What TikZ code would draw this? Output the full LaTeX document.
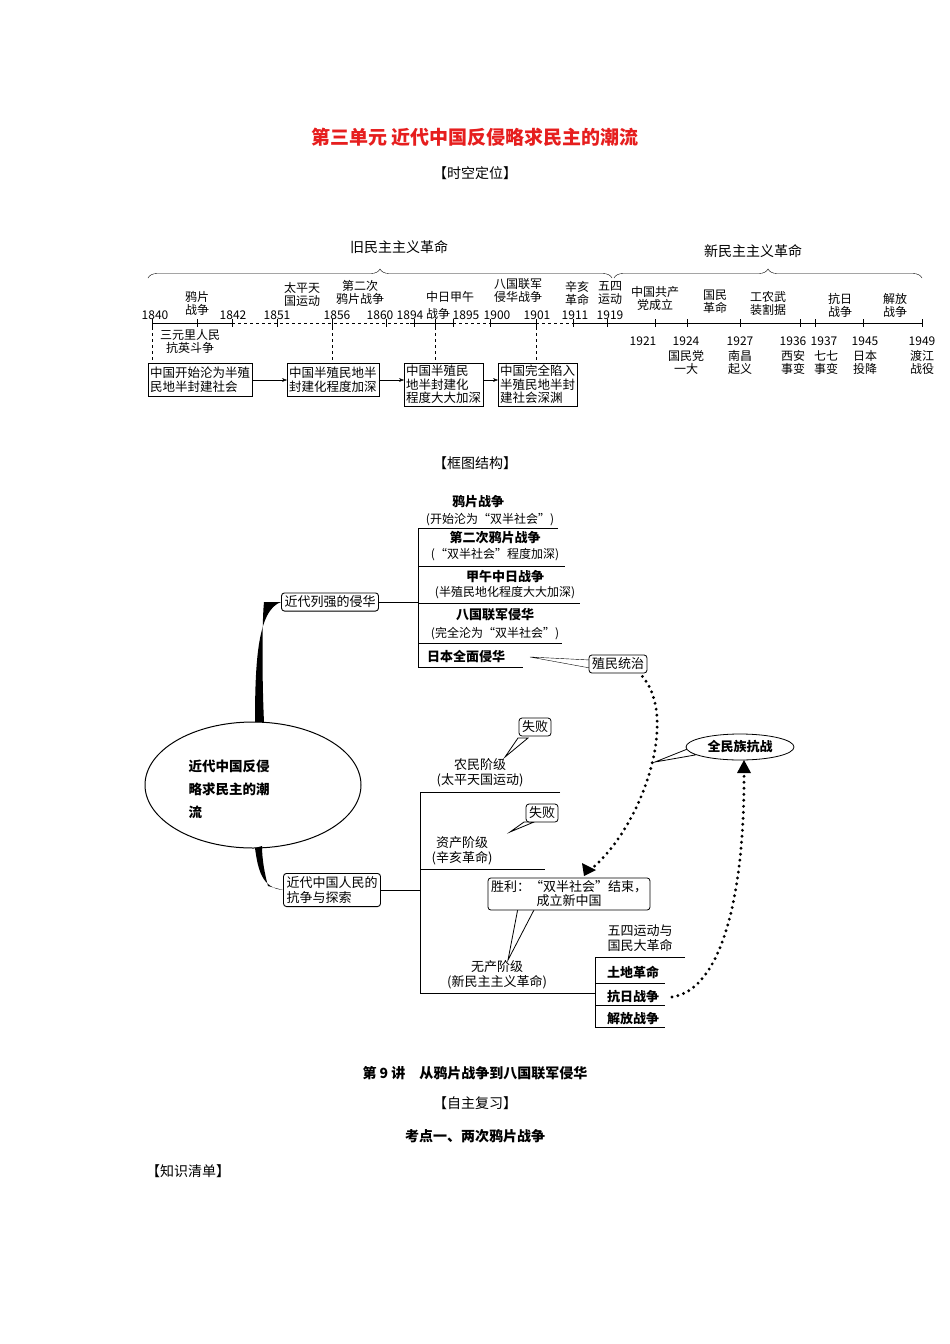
\documentclass[tikz,border=0pt]{standalone}
\usepackage{fontspec}
\setmainfont{Noto Sans CJK SC}
\usetikzlibrary{decorations.pathreplacing,arrows.meta,calc,shapes.geometric}
\definecolor{titlered}{RGB}{230,30,30}
\begin{document}
\begin{tikzpicture}[x=1pt,y=-1pt,
  t/.style={font=\fontsize{12}{13}\selectfont,align=center,inner sep=0pt},
  tb/.style={font=\fontsize{13}{14}\selectfont\bfseries,align=center,inner sep=0pt},
  ybox/.style={draw,font=\fontsize{12.5}{13.5}\selectfont,align=left,inner sep=2pt,anchor=north west},
  rbox/.style={draw,rounded corners=3pt,line width=0.9pt,font=\fontsize{13}{15}\selectfont,align=left,fill=white,inner sep=3pt},
  call/.style={draw,rounded corners=3pt,fill=white,line width=0.8pt,font=\fontsize{13}{14}\selectfont,align=center,inner sep=3pt},
  dots/.style={line width=3.2pt,dash pattern=on 0pt off 6pt,line cap=round},
  brc/.style={decorate,decoration={brace,amplitude=9pt}},
  arr/.style={-{Stealth[length=5pt]}}]
\useasboundingbox (0,0) rectangle (950,1344);
% titles
\node[font=\fontsize{19}{20}\selectfont\bfseries,text=titlered] (title) at (475,137) {第三单元\ 近代中国反侵略求民主的潮流};
\node[font=\fontsize{14}{15}\selectfont] (h1) at (475,173) {【时空定位】};
% braces
\draw[brc] (148,278) -- (612,278);
\node[font=\fontsize{14}{15}\selectfont] (old) at (399,247) {旧民主主义革命};
\draw[brc] (614,278) -- (922,278);
\node[font=\fontsize{14}{15}\selectfont] (new) at (753,251) {新民主主义革命};
% timeline
\draw (152,323) -- (232,323);
\draw[dashed] (232,323) -- (410,323);
\draw (410,323) -- (453,323);
\draw[dashed] (453,323) -- (490,323);
\draw (490,323) -- (536,323);
\draw[dashed] (536,323) -- (573,323);
\draw (573,323) -- (922,323);
\foreach \x in {152,197,232,277,332,386,414,435,453,490,536,573,607,655,687,740,800,815,863,922}
  \draw (\x,319) -- (\x,327);
% years above old line
\foreach \x/\y in {155/1840,233/1842,277/1851,337/1856,380/1860,410/1894,466/1895,497/1900,537/1901,575/1911,610/1919}
  \node[t] at (\x,315) {\y};
\node[t] (zr) at (438,314) {战争};
\node[t] at (197,303) {鸦片\\战争};
\node[t] at (302,294) {太平天\\国运动};
\node[t] at (360,292) {第二次\\鸦片战争};
\node[t] at (450,297) {中日甲午};
\node[t] at (518,291) {八国联军\\侵华战争};
\node[t] at (577,293) {辛亥\\革命};
\node[t] at (610,293) {五四\\运动};
\node[t] at (190,341) {三元里人民\\抗英斗争};
% new labels
\node[t] at (655,298) {中国共产\\党成立};
\node[t] at (715,302) {国民\\革命};
\node[t] at (768,303) {工农武\\装割据};
\node[t] at (840,305) {抗日\\战争};
\node[t] at (895,305) {解放\\战争};
\foreach \x/\y in {643/1921,686/1924,740/1927,793/1936,824/1937,865/1945,922/1949}
  \node[t] at (\x,341) {\y};
\node[t,anchor=north] at (686,350) {国民党\\一大};
\node[t,anchor=north] at (740,350) {南昌\\起义};
\node[t,anchor=north] at (793,350) {西安\\事变};
\node[t,anchor=north] at (826,350) {七七\\事变};
\node[t,anchor=north] at (865,350) {日本\\投降};
\node[t,anchor=north] at (922,350) {渡江\\战役};
% boxes
\node[ybox,minimum height=33pt] (b1) at (148,363) {中国开始沦为半殖\\民地半封建社会};
\node[ybox,minimum height=33pt] (b2) at (287,363) {中国半殖民地半\\封建化程度加深};
\node[ybox] (b3) at (404,363) {中国半殖民\\地半封建化\\程度大大加深};
\node[ybox] (b4) at (498,363) {中国完全陷入\\半殖民地半封\\建社会深渊};
\draw[dashed] (152,327) -- (152,363);
\draw[dashed] (332,327) -- (332,363);
\draw[dashed] (435,327) -- (435,363);
\draw[dashed] (536,327) -- (536,363);
\draw[arr] (b1.east |- 0,380) -- (b2.west |- 0,380);
\draw[arr] (b2.east |- 0,380) -- (b3.west |- 0,380);
\draw[arr] (b3.east |- 0,380) -- (b4.west |- 0,380);
% mind map
\node[font=\fontsize{14}{15}\selectfont] (h2) at (475,463) {【框图结构】};
\node[draw,ellipse,line width=1pt,minimum width=216pt,minimum height=126pt] (root) at (253,785) {};
\node[font=\fontsize{13.5}{23}\selectfont\bfseries,align=left,anchor=north west] (rt) at (185,756) {近代中国反侵\\略求民主的潮\\流};
\node[rbox] (m1) at (330,602) {近代列强的侵华};
\node[rbox] (m2) at (332,890) {近代中国人民的\\抗争与探索};
\fill (255,722) .. controls (255,660) and (258,610) .. (m1.west) -- (264,602) .. controls (262,620) and (262,680) .. (264,722) -- cycle;
\fill (255,848) .. controls (258,870) and (262,888) .. (m2.west) -- (268,886) .. controls (265,875) and (262,860) .. (262,846) -- cycle;
% upper branch
\draw[line width=0.8pt] (m1.east) -- (418,602);
\draw[line width=0.8pt] (558,528) -- (418,528) -- (418,667) -- (523,667);
\foreach \y/\r in {566/565,603/580,643/562} \draw[line width=0.8pt] (418,\y) -- (\r,\y);
\node[tb] at (478,502) {鸦片战争};
\node[t] at (490,520) {(开始沦为“双半社会”)};
\node[tb] at (495,538) {第二次鸦片战争};
\node[t] at (495,555) {(“双半社会”程度加深)};
\node[tb] at (505,577) {甲午中日战争};
\node[t] at (505,593) {(半殖民地化程度大大加深)};
\node[tb] at (495,615) {八国联军侵华};
\node[t] at (495,634) {(完全沦为“双半社会”)};
\node[tb] at (466,657) {日本全面侵华};
\draw[fill=white] (530,657) -- (590,660) -- (590,668) -- cycle;
\node[call] (zm) at (618,664) {殖民统治};
% lower branch
\draw[line width=0.8pt] (m2.east) -- (420,890);
\draw[line width=0.8pt] (560,792) -- (420,792) -- (420,993) -- (595,993);
\draw[line width=0.8pt] (420,869) -- (545,869);
\draw[line width=0.8pt] (685,957) -- (595,957) -- (595,1027) -- (665,1027);
\foreach \y in {983,1005} \draw[line width=0.8pt] (595,\y) -- (665,\y);
\node[t,font=\fontsize{13}{15}\selectfont] at (480,773) {农民阶级\\(太平天国运动)};
\node[t,font=\fontsize{13}{15}\selectfont] at (462,851) {资产阶级\\(辛亥革命)};
\node[t,font=\fontsize{13}{15}\selectfont] at (497,975) {无产阶级\\(新民主主义革命)};
\node[t,font=\fontsize{13}{15}\selectfont] at (640,938) {五四运动与\\国民大革命};
\node[tb] at (633,972) {土地革命};
\node[tb] (kr) at (633,997) {抗日战争};
\node[tb] at (633,1019) {解放战争};
% callouts
\draw[fill=white,line width=0.8pt] (505,757) -- (518,738) -- (528,738) -- cycle;
\node[call] (sb1) at (535,727) {失败};
\draw[fill=white,line width=0.8pt] (510,832) -- (524,822) -- (534,822) -- cycle;
\node[call] (sb2) at (542,813) {失败};
\draw[fill=white,line width=0.8pt] (508,960) -- (518,908) -- (535,908) -- cycle;
\node[call] (sl) at (569,894) {胜利：“双半社会”结束，\\成立新中国};
\draw[fill=white,line width=0.8pt] (655,762) -- (690,748) -- (695,755) -- cycle;
\node[draw,ellipse,fill=white,line width=0.8pt,font=\fontsize{13}{14}\selectfont\bfseries,inner sep=1pt,minimum width=108pt,minimum height=26pt] (qm) at (740,747) {全民族抗战};
% dotted arrows
\draw[dots] (zm.south east) ++(-5,3) .. controls (680,720) and (640,830) .. (590,870);
\fill (584,876) -- (582,863) -- (596,870) -- cycle;
\draw[dots] (672,997) .. controls (720,990) and (745,900) .. (744,770);
\fill (744,760) -- (737,773) -- (751,773) -- cycle;
% bottom text
\node[font=\fontsize{14}{15}\selectfont\bfseries] (l9) at (475,1073) {第 9 讲\quad 从鸦片战争到八国联军侵华};
\node[font=\fontsize{14}{15}\selectfont] (h3) at (475,1103) {【自主复习】};
\node[font=\fontsize{14}{15}\selectfont\bfseries] (kd) at (475,1136) {考点一、两次鸦片战争};
\node[font=\fontsize{14}{15}\selectfont] (h4) at (188,1171) {【知识清单】};
\end{tikzpicture}
\end{document}
